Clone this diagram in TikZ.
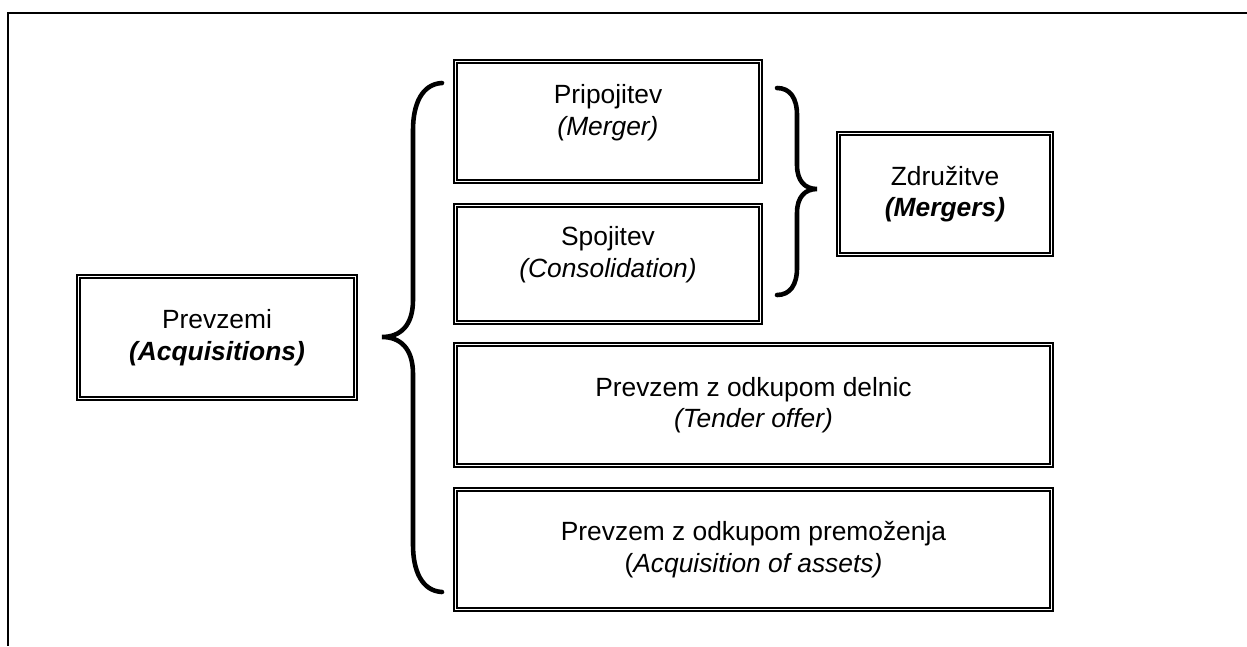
\documentclass[tikz,border=0pt]{standalone}
\usepackage{fontspec}
\setmainfont{Liberation Sans}
\begin{document}
\begin{tikzpicture}[x=0.02cm,y=-0.02cm,
    box/.style={draw,line width=1.6pt,inner sep=0pt,align=center,font=\fontsize{15}{18}\selectfont},
    lifted/.style={text depth=0.47cm},
    inbox/.style={line width=1pt},
    brace/.style={line width=2.6pt,line cap=round}]
    \useasboundingbox (0,0) rectangle (1247,646);
    \draw[line width=1.2pt] (1247,13) -- (8,13) -- (8,646);
    \node[box,lifted,minimum width=6.16cm,minimum height=2.46cm] (prip) at (608,121.5) {Pripojitev\\\textit{(Merger)}};
    \node[box,lifted,minimum width=6.16cm,minimum height=2.4cm] (spoj) at (608,264) {Spojitev\\\textit{(Consolidation)}};
    \node[box,minimum width=4.32cm,minimum height=2.48cm] (zdr) at (945,194) {Združitve\\\textbf{\textit{(Mergers)}}};
    \node[box,minimum width=5.6cm,minimum height=2.5cm] (prev) at (217,337.5) {Prevzemi\\\textbf{\textit{(Acquisitions)}}};
    \node[box,minimum width=11.98cm,minimum height=2.48cm] (tend) at (753.5,405) {Prevzem z odkupom delnic\\\textit{(Tender offer)}};
    \node[box,minimum width=11.98cm,minimum height=2.46cm] (prem) at (753.5,549.5) {Prevzem z odkupom premoženja\\(\textit{Acquisition of assets)}};
    \foreach \n in {prip,spoj,zdr,prev,tend,prem}
        \draw[inbox] ([shift={(4.5,-4.5)}]\n.south west) rectangle ([shift={(-4.5,4.5)}]\n.north east);
    \draw[brace] (442,83) .. controls (422,84) and (413,104) .. (413,130) -- (413,300)
        .. controls (413,326) and (400,337) .. (382,337)
        .. controls (400,337) and (413,348) .. (413,374) -- (413,545)
        .. controls (413,571) and (422,591) .. (442,592);
    \draw[brace] (777,88) .. controls (790,88) and (797,98) .. (797,115) -- (797,165)
        .. controls (797,181) and (805,189) .. (817,189)
        .. controls (805,189) and (797,197) .. (797,213) -- (797,268)
        .. controls (797,285) and (790,295) .. (777,295);
\end{tikzpicture}
\end{document}
